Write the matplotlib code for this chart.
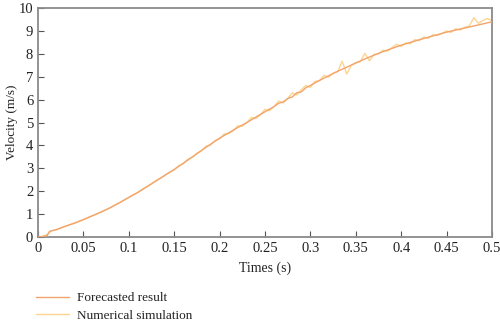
import numpy as np
import matplotlib
matplotlib.use("Agg")
import matplotlib.pyplot as plt

plt.rcParams["font.family"] = ["Liberation Serif", "DejaVu Serif"]

# Forecasted result
t_forecast = [0.0, 0.005, 0.01, 0.0125, 0.015, 0.02, 0.03, 0.04, 0.05, 0.06,
              0.07, 0.08, 0.09, 0.10, 0.11, 0.12, 0.13, 0.14, 0.15, 0.16,
              0.17, 0.18, 0.19, 0.20, 0.21, 0.22, 0.23, 0.24, 0.25, 0.26,
              0.265, 0.27, 0.275, 0.28, 0.285, 0.29, 0.295, 0.30, 0.31, 0.32,
              0.33, 0.34, 0.35, 0.36, 0.37, 0.38, 0.39, 0.40, 0.41, 0.42,
              0.43, 0.44, 0.45, 0.46, 0.47, 0.48, 0.49, 0.50]
v_forecast = [0.0, 0.02, 0.06, 0.24, 0.27, 0.32, 0.47, 0.60, 0.76, 0.93,
              1.10, 1.29, 1.50, 1.73, 1.95, 2.20, 2.45, 2.70, 2.95, 3.22,
              3.50, 3.78, 4.05, 4.32, 4.55, 4.78, 5.00, 5.24, 5.47, 5.70,
              5.84, 5.90, 6.05, 6.12, 6.30, 6.34, 6.52, 6.62, 6.84, 7.04,
              7.24, 7.42, 7.60, 7.78, 7.94, 8.10, 8.24, 8.38, 8.50, 8.62,
              8.73, 8.84, 8.95, 9.04, 9.13, 9.22, 9.31, 9.40]

# Numerical simulation, sampled every 0.005 s
t_numeric = [round(0.005 * i, 3) for i in range(101)]
v_numeric = [0.00, 0.03, 0.10, 0.28, 0.31, 0.40, 0.46, 0.54, 0.61, 0.68,
             0.76, 0.85, 0.93, 1.01, 1.10, 1.19, 1.29, 1.41, 1.50, 1.62,
             1.73, 1.85, 1.94, 2.09, 2.20, 2.32, 2.47, 2.57, 2.70, 2.84,
             2.93, 3.12, 3.20, 3.40, 3.48, 3.66, 3.76, 3.97, 4.02, 4.22,
             4.28, 4.50, 4.52, 4.64, 4.86, 4.84, 5.00, 5.22, 5.18, 5.34,
             5.58, 5.52, 5.70, 5.94, 5.86, 6.05, 6.30, 6.20, 6.44, 6.62,
             6.54, 6.80, 6.82, 7.06, 6.98, 7.16, 7.22, 7.68, 7.12, 7.50,
             7.62, 7.66, 8.02, 7.70, 7.98, 8.00, 8.16, 8.12, 8.28, 8.42,
             8.32, 8.48, 8.44, 8.62, 8.58, 8.74, 8.68, 8.84, 8.80, 8.90,
             9.00, 8.94, 9.10, 9.04, 9.16, 9.22, 9.58, 9.34, 9.46, 9.55,
             9.44]

x_ticks = [0, 0.05, 0.1, 0.15, 0.2, 0.25, 0.3, 0.35, 0.4, 0.45, 0.5]
x_labels = ["0", "0.05", "0.1", "0.15", "0.2", "0.25", "0.3", "0.35", "0.4", "0.45", "0.5"]

fig = plt.figure(figsize=(5.0, 3.24), dpi=100)
ax = fig.add_axes([0.076, 0.2685, 0.908, 0.7065])

ax.plot(t_numeric, v_numeric, color="#fdd58e", lw=1.0, label="Numerical simulation", zorder=2)
ax.plot(t_forecast, v_forecast, color="#f2a46e", lw=1.0, label="Forecasted result", zorder=3)

ax.set_xlim(0, 0.5)
ax.set_ylim(0, 10)
ax.set_xticks(x_ticks)
ax.set_xticklabels(x_labels)
ax.set_yticks(range(0, 11))
for s in ax.spines.values():
    s.set_color("#8a8a8a")
    s.set_linewidth(1.3)
ax.tick_params(direction="in", length=4, width=0.8, color="#555555",
               labelsize=10.5, labelcolor="#222222", top=False, right=False)
ax.set_xlabel("Times (s)", fontsize=10, color="#222222", labelpad=5)
ax.set_ylabel("Velocity (m/s)", fontsize=9.5, color="#222222")
ax.yaxis.set_label_coords(-0.044, 0.5)

handles, labels = ax.get_legend_handles_labels()
fig.legend(handles[::-1], labels[::-1], loc="upper left",
           bbox_to_anchor=(0.049, 0.135), frameon=False, fontsize=9.5,
           handlelength=2.5, handletextpad=0.55, labelspacing=0.4,
           labelcolor="#222222")

fig.savefig("out.png", dpi=100)
